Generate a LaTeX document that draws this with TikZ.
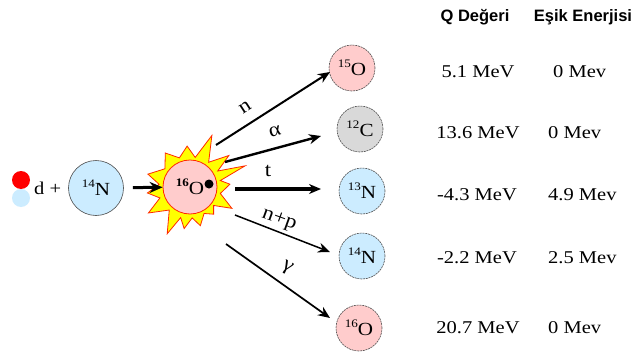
\documentclass[tikz,border=0pt]{standalone}
\usepackage{fontspec}
\usepackage{graphicx}
\setmainfont{Liberation Serif}
\newfontfamily\headfont{Liberation Sans}
\usetikzlibrary{arrows.meta,calc}

\definecolor{nucpink}{RGB}{255,204,204}
\definecolor{nucblue}{RGB}{204,236,255}
\definecolor{nucgray}{RGB}{217,217,217}
\definecolor{flarefill}{RGB}{255,255,0}
\definecolor{flareedge}{RGB}{255,40,0}

% isotope label: small mass number raised before the symbol
\newcommand\iso[2]{\raisebox{0.42em}{\fontsize{11.5}{11.5}\selectfont #1}#2}
\newcommand\wide[1]{\scalebox{1.14}[1]{#1}}

\begin{document}
\begin{tikzpicture}[x=1pt,y=-1pt,
  nuc/.style={circle, draw=black!70, line width=0.6pt, minimum size=#1,
    inner sep=0pt, font=\fontsize{18.5}{20}\selectfont},
  prod/.style={nuc=46pt, dash pattern=on 2pt off 0.8pt},
  react/.style={-{Stealth[length=12pt,width=10pt]}, line width=#1},
  lbl/.style={font=\fontsize{20}{20}\selectfont, inner sep=0pt},
  val/.style={font=\fontsize{18}{20}\selectfont, inner sep=0pt},
  colhead/.style={font=\headfont\bfseries\fontsize{16.5}{18}\selectfont, inner sep=0pt}]

\useasboundingbox[fill=white] (0,0) rectangle (635,356);

% deuteron
\node (dp) [circle, fill=red, minimum size=18pt, inner sep=0pt] at (21,180) {};
\node (dn) [circle, fill=nucblue, minimum size=18pt, inner sep=0pt] at (21,198) {};
\node (dplus) [val, anchor=west] at (34,188) {\wide{d +}};

% target nucleus
\node (N14) [nuc=55pt, fill=nucblue] at (96,188) {\wide{\iso{14}{N}}};

% compound nucleus with its flare
\coordinate (C) at (190,187);
\draw[draw=flareedge, fill=flarefill, line width=0.8pt]
  ($(C)+(-4:40)$)
  \foreach \a/\r in {12/31,21/59,30/32,39/50,53/31,67/56,80/30,94/41,110/31,
      126/42,144/31,163/44,175/31,188/43,200/32,212/49,228/31,244/52,253/32,
      262/42,274/31,285/40,298/30,311/36,322/30,333/47,348/31}
    { -- ($(C)+(-\a:\r)$) } -- cycle;
\node (O16) [circle, draw=flareedge, line width=0.8pt, fill=nucpink,
  minimum size=54pt, inner sep=0pt, font=\fontsize{18.5}{20}\selectfont]
  at (C) {\wide{\iso{\textbf{16}}{O}}\hspace{6pt}};
\node (dot) [circle, fill=black, minimum size=9pt, inner sep=0pt] at (209,184) {};

\draw[react=3pt, -{Stealth[length=13pt,width=11pt]}, shorten <=9pt] (N14) -- (O16);

% products
\node (P1) [prod, fill=nucpink] at (352,68)  {\wide{\iso{15}{O}}};
\node (P2) [prod, fill=nucgray] at (360,129) {\wide{\iso{12}{C}}};
\node (P3) [prod, fill=nucblue] at (362,191) {\wide{\iso{13}{N}}};
\node (P4) [prod, fill=nucblue] at (362,256) {\wide{\iso{14}{N}}};
\node (P5) [prod, fill=nucpink] at (359,328) {\wide{\iso{16}{O}}};

% decay channels
\coordinate (s1) at (216,145); \coordinate (e1) at (330,72);
\coordinate (s2) at (225,162); \coordinate (e2) at (321,136);
\coordinate (s3) at (235,189); \coordinate (e3) at (321,189);
\coordinate (s4) at (235,215); \coordinate (e4) at (330,252);
\coordinate (s5) at (226,244); \coordinate (e5) at (330,318);

\draw[react=2pt]   (s1) -- (e1);
\draw[react=2.4pt] (s2) -- (e2);
\draw[react=3.2pt] (s3) -- (e3);
\draw[react=1.5pt] (s4) -- (e4);
\draw[react=1.7pt] (s5) -- (e5);

\node (l1) [lbl, rotate=33]  at (245,107) {\wide{n}};
\node (l2) [lbl, rotate=15]  at (275,131) {\wide{α}};
\node (l3) [lbl]             at (268,171) {\wide{t}};
\node (l4) [lbl, rotate=-20] at (279,220) {\wide{n+p}};
\node (l5) [lbl, rotate=-30] at (287,268) {\wide{γ}};

% table
\node (h1) [colhead] at (475,17) {Q Değeri};
\node (h2) [colhead] at (583,17) {Eşik Enerjisi};

\node (q1) [val] at (478,72)  {\wide{5.1 MeV}};
\node (q2) [val] at (478,133) {\wide{13.6 MeV}};
\node (q3) [val] at (477,195) {\wide{-4.3 MeV}};
\node (q4) [val] at (477,258) {\wide{-2.2 MeV}};
\node (q5) [val] at (478,328) {\wide{20.7 MeV}};

\node (t1) [val, anchor=west] at (553,72)  {\wide{0 Mev}};
\node (t2) [val, anchor=west] at (548,133) {\wide{0 Mev}};
\node (t3) [val, anchor=west] at (548,195) {\wide{4.9 Mev}};
\node (t4) [val, anchor=west] at (548,258) {\wide{2.5 Mev}};
\node (t5) [val, anchor=west] at (548,328) {\wide{0 Mev}};
\end{tikzpicture}
\end{document}
